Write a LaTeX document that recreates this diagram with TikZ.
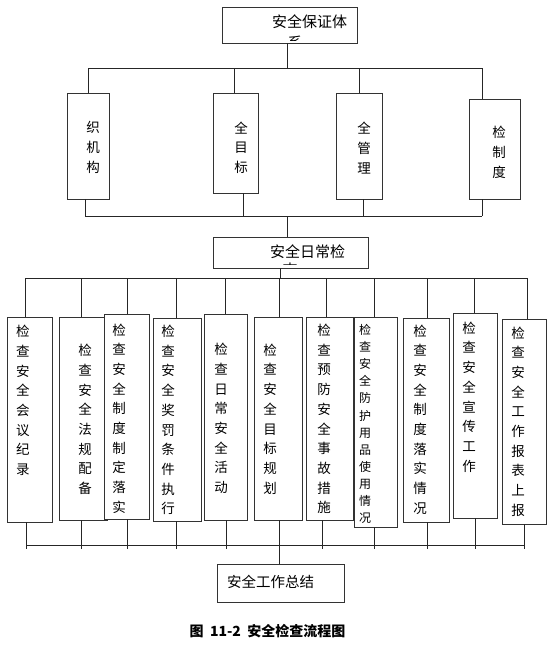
\documentclass[tikz,border=0pt]{standalone}
\usepackage{fontspec}
\newfontfamily\cjk{Noto Sans CJK SC}
\usetikzlibrary{calc}
\tikzset{
  bx/.style={draw=black!80, line width=0.9pt, fill=white, inner sep=0pt},
  ln/.style={draw=black!85, line width=0.8pt},
  vt/.style={inner sep=0pt, align=center, font=\fontsize{13.5}{19.7}\selectfont\cjk},
  vts/.style={inner sep=0pt, align=center, font=\fontsize{12}{17.1}\selectfont\cjk},
  ht/.style={inner sep=0pt, font=\fontsize{15}{18}\selectfont\cjk},
  hts/.style={inner sep=0pt, font=\fontsize{14.5}{18}\selectfont\cjk},
}
\newcommand\mybox[5]{%
  \pgfmathsetmacro\bw{#3-#2}\pgfmathsetmacro\bh{#5-#4}%
  \node[bx,minimum width=\bw pt,minimum height=\bh pt] (#1) at ({(#2+#3)/2},{(#4+#5)/2}) {};}
\begin{document}
\begin{tikzpicture}[x=1pt,y=-1pt]
\useasboundingbox (0,0) rectangle (554,645);
% ---------- top box
\mybox{top}{222}{357}{7}{43}
\node[ht] (toptext) at (309.5,22) {安全保证体};
\begin{scope}
  \clip (223,8) rectangle (356,40);
  \node[ht] (topclip) at (295,43) {系};
\end{scope}
% ---------- first row
\mybox{a1}{67}{109}{93}{199}
\mybox{a2}{213}{258}{93}{193}
\mybox{a3}{336}{382}{93}{199}
\mybox{a4}{469}{520}{99}{199}
\node[vt] (a1t) at (93,147.5) {织\\机\\构};
\node[vt] (a2t) at (241,147.5) {全\\目\\标};
\node[vt] (a3t) at (364,148) {全\\管\\理};
\node[vt] (a4t) at (499,152.5) {检\\制\\度};
% bus above first row
\coordinate (p0) at (287,68);
\coordinate (p1) at (88,68);
\coordinate (p2) at (234,68);
\coordinate (p3) at (359,68);
\coordinate (p4) at (482,68);
\draw[ln] (top.south -| p0) -- (p0);
\draw[ln] (p1) -- (p4);
\draw[ln] (p1) -- (p1 |- a1.north);
\draw[ln] (p2) -- (p2 |- a2.north);
\draw[ln] (p3) -- (p3 |- a3.north);
\draw[ln] (p4) -- (p4 |- a4.north);
% bus below first row
\coordinate (q1) at (85,216);
\coordinate (q2) at (243,216);
\coordinate (q3) at (363,216);
\coordinate (q4) at (482,216);
\coordinate (q0) at (287,216);
\draw[ln] (q1) -- (q4);
\draw[ln] (q1 |- a1.south) -- (q1);
\draw[ln] (q2 |- a2.south) -- (q2);
\draw[ln] (q3 |- a3.south) -- (q3);
\draw[ln] (q4 |- a4.south) -- (q4);
% ---------- middle box
\mybox{mid}{213}{368}{237}{268}
\draw[ln] (q0) -- (q0 |- mid.north);
\node[ht] (midtext) at (307.5,252) {安全日常检};
\begin{scope}
  \clip (214,238) rectangle (367,264.5);
  \node[ht] (midclip) at (290,269.5) {查};
\end{scope}
% ---------- second row bus
\coordinate (r0) at (280,278);
\coordinate (r1) at (25,278);
\coordinate (r2) at (81,278);
\coordinate (r3) at (127,278);
\coordinate (r4) at (176,278);
\coordinate (r5) at (225,278);
\coordinate (r6) at (279,278);
\coordinate (r7) at (326,278);
\coordinate (r8) at (374,278);
\coordinate (r9) at (427,278);
\coordinate (r10) at (474,278);
\coordinate (r11) at (527,278);
\draw[ln] (mid.south -| r0) -- (r0);
\draw[ln] (r1) -- (r11);
% ---------- second row boxes
\mybox{b1}{7}{52}{317}{522}
\mybox{b2}{59}{107}{317}{520}
\mybox{b3}{104}{149}{314}{519}
\mybox{b4}{153}{201}{318}{521}
\mybox{b5}{204}{247}{314}{520}
\mybox{b6}{254}{302}{317}{520}
\mybox{b7}{306}{353}{317}{520}
\mybox{b8}{354}{397}{317}{527}
\mybox{b9}{403}{449}{318}{522}
\mybox{b10}{453}{497}{313}{518}
\mybox{b11}{502}{546}{319}{524}
\node[vt] (b1t) at (23,400.5) {检\\查\\安\\全\\会\\议\\纪\\录};
\node[vt] (b2t) at (85,419.5) {检\\查\\安\\全\\法\\规\\配\\备};
\node[vt] (b3t) at (119,418.5) {检\\查\\安\\全\\制\\度\\制\\定\\落\\实};
\node[vt] (b4t) at (168,420) {检\\查\\安\\全\\奖\\罚\\条\\件\\执\\行};
\node[vt] (b5t) at (221,418.5) {检\\查\\日\\常\\安\\全\\活\\动};
\node[vt] (b6t) at (270,419) {检\\查\\安\\全\\目\\标\\规\\划};
\node[vt] (b7t) at (324,419) {检\\查\\预\\防\\安\\全\\事\\故\\措\\施};
\node[vts] (b8t) at (365,424) {检\\查\\安\\全\\防\\护\\用\\品\\使\\用\\情\\况};
\node[vt] (b9t) at (420,419.5) {检\\查\\安\\全\\制\\度\\落\\实\\情\\况};
\node[vt] (b10t) at (469,397) {检\\查\\安\\全\\宣\\传\\工\\作};
\node[vt] (b11t) at (518,421.5) {检\\查\\安\\全\\工\\作\\报\\表\\上\\报};
\draw[ln] (r1) -- (r1 |- b1.north);
\draw[ln] (r2) -- (r2 |- b2.north);
\draw[ln] (r3) -- (r3 |- b3.north);
\draw[ln] (r4) -- (r4 |- b4.north);
\draw[ln] (r5) -- (r5 |- b5.north);
\draw[ln] (r6) -- (r6 |- b6.north);
\draw[ln] (r7) -- (r7 |- b7.north);
\draw[ln] (r8) -- (r8 |- b8.north);
\draw[ln] (r9) -- (r9 |- b9.north);
\draw[ln] (r10) -- (r10 |- b10.north);
\draw[ln] (r11) -- (r11 |- b11.north);
% ---------- bottom bus
\coordinate (s1) at (26,549);
\coordinate (s2) at (81,549);
\coordinate (s3) at (127,549);
\coordinate (s4) at (176,549);
\coordinate (s5) at (226,549);
\coordinate (s6) at (279,549);
\coordinate (s7) at (322,549);
\coordinate (s8) at (374,549);
\coordinate (s9) at (427,549);
\coordinate (s10) at (475,549);
\coordinate (s11) at (524,549);
\coordinate (sl) at (26,545);
\coordinate (sr) at (524,545);
\draw[ln] (sl) -- (sr);
\draw[ln] (s1 |- b1.south) -- (s1);
\draw[ln] (s2 |- b2.south) -- (s2);
\draw[ln] (s3 |- b3.south) -- (s3);
\draw[ln] (s4 |- b4.south) -- (s4);
\draw[ln] (s5 |- b5.south) -- (s5);
\draw[ln] (s6 |- b6.south) -- (s6);
\draw[ln] (s7 |- b7.south) -- (s7);
\draw[ln] (s8 |- b8.south) -- (s8);
\draw[ln] (s9 |- b9.south) -- (s9);
\draw[ln] (s10 |- b10.south) -- (s10);
\draw[ln] (s11 |- b11.south) -- (s11);
% ---------- summary box
\mybox{sum}{217}{344}{564}{602}
\coordinate (sc) at (279,545);
\draw[ln] (sc) -- (sc |- sum.north);
\node[hts,anchor=west] (sumtext) at (227,582) {安全工作总结};
% ---------- caption
\node[inner sep=0pt, font=\fontsize{14}{16}\selectfont\cjk\bfseries] (cap) at (267.5,631) {图\hspace{0.45em}11-2\hspace{0.45em}安全检查流程图};
\end{tikzpicture}
\end{document}
